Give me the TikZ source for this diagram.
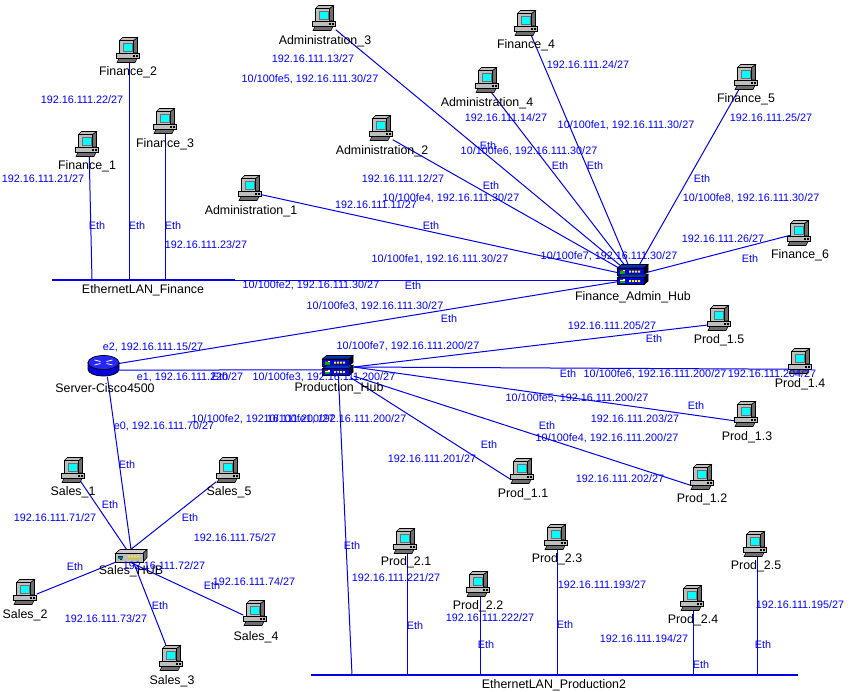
\documentclass[tikz,border=0pt]{standalone}
\usepackage{fontspec}
\setmainfont{Liberation Sans}
\definecolor{lk}{RGB}{0,0,235}
\definecolor{tx}{RGB}{0,0,255}
\definecolor{pcg}{RGB}{190,190,190}
\definecolor{pcd}{RGB}{110,110,110}
\definecolor{hb}{RGB}{0,0,225}
\definecolor{hbt}{RGB}{0,50,190}
\definecolor{scr}{RGB}{0,255,255}
\tikzset{
  ip/.style={text=tx,font=\fontsize{10.8}{12}\selectfont,inner sep=0pt},
  nm/.style={text=black,font=\fontsize{12.4}{14}\selectfont,inner sep=0pt,yshift=-1.2pt},
  pcn/.style={minimum width=23pt,minimum height=25pt,inner sep=0pt},
  hubn/.style={minimum width=31pt,minimum height=21pt,inner sep=0pt},
  shubn/.style={minimum width=31pt,minimum height=13pt,inner sep=0pt},
  rtn/.style={minimum width=31pt,minimum height=21pt,inner sep=0pt},
  lan/.style={draw=lk,line width=1.6pt},
  lnk/.style={draw=lk,line width=1pt},
  ol/.style={draw=black,line width=0.55pt},
  pics/pccomp/.style={code={
    \path[ol,fill=pcd] (-9,8.5)--(9,8.5)--(7,12.5)--(-11,12.5)--cycle;
    \path[ol,fill=pcd] (5.5,-9.5)--(9.5,-12.5)--(9.5,3)--(5.5,3)--cycle;
    \path[ol,fill=pcg] (-8.5,-9.5)--(-5.5,-12.5)--(9.5,-12.5)--(5.5,-9.5)--cycle;
    \path[ol,fill=pcg] (-8.5,-9.5) rectangle (5.5,3);
    \path[draw=pcd,line width=0.5pt,fill=scr] (-5,-6.5) rectangle (4,1.5);
    \path[ol,fill=pcg] (-11.5,3) rectangle (11.5,8.5);
    \fill[black] (5,5) rectangle (6.8,6.8) (8,5) rectangle (9.8,6.8);
  }},
  pics/hubunit/.style={code={
    \path[ol,fill=hbt] (-15.7,-3.5)--(-11.5,-7)--(15,-7)--(11,-3.5)--cycle;
    \path[ol,fill=black!85!blue] (11,-3.5)--(15,-7)--(15,0)--(11,3.5)--cycle;
    \path[ol,fill=hb] (-15.7,-3.5) rectangle (11,3.5);
    \fill[white] (-13.5,-2) rectangle (-8,2);
    \fill[green!70!black] (-13,-0.5) rectangle (-8.5,2);
    \fill[red!80!black] (-13.5,-2) rectangle (-10,-0.8);
    \fill[yellow] (-4,-1) rectangle (-2,1) (-1,-1) rectangle (1,1) (2,-1) rectangle (4,1) (5,-1) rectangle (7,1);
  }},
  pics/dualhub/.style={code={
    \pic at (0,-4.5) {hubunit};
    \pic at (0,5.2) {hubunit};
  }},
  pics/grayhub/.style={code={
    \path[ol,fill=pcg!80!white] (-15.7,-2.5)--(-11,-6.5)--(16,-6.5)--(12,-2.5)--cycle;
    \path[ol,fill=pcd] (12,-2.5)--(16,-6.5)--(16,1.5)--(12,6)--cycle;
    \path[ol,fill=pcg] (-15.7,-2.5) rectangle (12,6);
    \fill[blue] (-13,-0.5) rectangle (-8,1);
    \fill[green!60!black] (-13,1) rectangle (-8,2.5);
    \fill[blue] (-11,2.5) rectangle (-9,4);
    \fill[yellow] (-3,-0.5) rectangle (-1,1) (0,-0.5) rectangle (2,1) (3,-0.5) rectangle (5,1) (6,-0.5) rectangle (8,1);
    \fill[yellow!80!black] (-3,2) rectangle (-1,3.5) (0,2) rectangle (2,3.5) (3,2) rectangle (5,3.5) (6,2) rectangle (8,3.5);
  }},
  pics/routerpic/.style={code={
    \path[ol,fill=blue!85!black,line width=0.7pt] (-15.5,-3.5) -- (-15.5,3.5) arc[x radius=15.5,y radius=6.5,start angle=180,end angle=0] -- (15.5,-3.5) -- cycle;
    \path[ol,fill=blue!85!white,line width=0.7pt] (0,-3.5) ellipse[x radius=15.5,y radius=7];
    \draw[white,line width=0.8pt] (-9,-6)--(-3,-4.5) (3,-2.5)--(9,-1) (9,-6)--(3,-4.5) (-3,-2.5)--(-9,-1);
  }}
}
\begin{document}
\begin{tikzpicture}[x=1pt,y=-1pt]
\path[use as bounding box,fill=white] (0,0) rectangle (850,691);
% devices
\node[pcn] (fin1) at (87,144) {};
\node[pcn] (fin2) at (128,50) {};
\node[pcn] (fin3) at (165,121) {};
\node[pcn] (fin4) at (526,23) {};
\node[pcn] (fin5) at (746,77) {};
\node[pcn] (fin6) at (799,233) {};
\node[pcn] (adm1) at (250,188) {};
\node[pcn] (adm2) at (381,128) {};
\node[pcn] (adm3) at (324,18) {};
\node[pcn] (adm4) at (487,80) {};
\node[hubn] (fhub) at (633,276) {};
\node[hubn] (phub) at (338,367) {};
\node[rtn] (rtr) at (103.5,366) {};
\node[shubn] (shub) at (131,556) {};
\node[pcn] (p11) at (522,471) {};
\node[pcn] (p12) at (702,477) {};
\node[pcn] (p13) at (746,414) {};
\node[pcn] (p14) at (800,361) {};
\node[pcn] (p15) at (719,318) {};
\node[pcn] (p21) at (405,541) {};
\node[pcn] (p22) at (478,584) {};
\node[pcn] (p23) at (556,537) {};
\node[pcn] (p24) at (692,598) {};
\node[pcn] (p25) at (755,544) {};
\node[pcn] (s1) at (73,470) {};
\node[pcn] (s2) at (25,592) {};
\node[pcn] (s3) at (171,658) {};
\node[pcn] (s4) at (255,613) {};
\node[pcn] (s5) at (228,470) {};
% LAN buses and their tap points
\coordinate (lf0) at (52,280);
\coordinate (lf1) at (92,280);
\coordinate (lf2) at (129,280);
\coordinate (lf3) at (165,280);
\coordinate (lf4) at (235,280);
\coordinate (lp0) at (311,675);
\coordinate (lp1) at (352,675);
\coordinate (lp2) at (407,675);
\coordinate (lp3) at (480,675);
\coordinate (lp4) at (557.5,675);
\coordinate (lp5) at (693.5,675);
\coordinate (lp6) at (757,675);
\coordinate (lp7) at (798,675);
\draw[lan] (lf0) -- (lf4);
\draw[lan] (lp0) -- (lp7);
% links
\draw[lnk] (fin1.-80) -- (lf1);
\draw[lnk] (lf2 |- fin2.south) -- (lf2);
\draw[lnk] (lf3 |- fin3.south) -- (lf3);
\draw[lnk] (lf4) -- (fhub.center |- lf4);
\draw[lnk] (adm1.-30) -- (fhub.center);
\draw[lnk] (adm2.-45) -- (fhub.center);
\draw[lnk] (adm3.-45) -- (fhub.center);
\draw[lnk] (adm4.-70) -- (fhub.center);
\draw[lnk] (fin4.center) -- (fhub.center);
\draw[lnk] (fin5.center) -- (fhub.center);
\draw[lnk] (fin6.center) -- (fhub.center);
\draw[lnk] (rtr.center) -- (fhub.-160);
\draw[lnk] (rtr.-15) -- (phub.-170);
\draw[lnk] (rtr.-70) -- (shub.north);
\draw[lnk] (phub.east) -- (p14.-145);
\draw[lnk] (phub.east) -- (p15.-149);
\draw[lnk] (phub.east) -- (p13.-150);
\draw[lnk] (phub.-30) -- (p12.-145);
\draw[lnk] (phub.-40) -- (p11.-145);
\draw[lnk] (phub.center) -- (lp1);
\draw[lnk] (lp2 |- p21.south) -- (lp2);
\draw[lnk] (lp3 |- p22.south) -- (lp3);
\draw[lnk] (lp4 |- p23.south) -- (lp4);
\draw[lnk] (lp5 |- p24.south) -- (lp5);
\draw[lnk] (lp6 |- p25.south) -- (lp6);
\draw[lnk] (s1.center) -- (shub.center);
\draw[lnk] (s2.-10) -- (shub.center);
\draw[lnk] (s3.center) -- (shub.center);
\draw[lnk] (s4.-170) -- (shub.south);
\draw[lnk] (s5.-135) -- (shub.north);
% icons
\foreach \n in {fin1,fin2,fin3,fin4,fin5,fin6,adm1,adm2,adm3,adm4,p11,p12,p13,p14,p15,p21,p22,p23,p24,p25,s1,s2,s3,s4,s5}
  \pic at (\n) {pccomp};
\pic at (fhub) {dualhub};
\pic at (phub) {dualhub};
\pic at (shub) {grayhub};
\pic at (rtr) {routerpic};
% device names
\node[nm] (nfin1) at (87,165) {Finance\_1};
\node[nm] (nfin2) at (128,71) {Finance\_2};
\node[nm] (nfin3) at (165,143) {Finance\_3};
\node[nm] (nfin4) at (526,44) {Finance\_4};
\node[nm] (nfin5) at (746,98) {Finance\_5};
\node[nm] (nfin6) at (800,254) {Finance\_6};
\node[nm] (nadm1) at (251,210) {Administration\_1};
\node[nm] (nadm2) at (382,150) {Administration\_2};
\node[nm] (nadm3) at (325,40) {Administration\_3};
\node[nm] (nadm4) at (487,102) {Administration\_4};
\node[nm] (nfhub) at (633,296) {Finance\_Admin\_Hub};
\node[nm] (nlf) at (143,289) {EthernetLAN\_Finance};
\node[nm] (nrtr) at (105,387) {Server-Cisco4500};
\node[nm] (nphub) at (339,387) {Production\_Hub};
\node[nm] (np15) at (719,339) {Prod\_1.5};
\node[nm] (np14) at (800,383) {Prod\_1.4};
\node[nm] (np13) at (747,436) {Prod\_1.3};
\node[nm] (np12) at (702,498) {Prod\_1.2};
\node[nm] (np11) at (523,493) {Prod\_1.1};
\node[nm] (ns1) at (73,491) {Sales\_1};
\node[nm] (ns5) at (229,491) {Sales\_5};
\node[nm] (ns2) at (25,614) {Sales\_2};
\node[nm] (ns3) at (172,680) {Sales\_3};
\node[nm] (ns4) at (256,636) {Sales\_4};
\node[nm] (nshub) at (131,570) {Sales\_HUB};
\node[nm] (np21) at (406,561) {Prod\_2.1};
\node[nm] (np22) at (478,605) {Prod\_2.2};
\node[nm] (np23) at (557,558) {Prod\_2.3};
\node[nm] (np24) at (693,619) {Prod\_2.4};
\node[nm] (np25) at (756,565) {Prod\_2.5};
\node[nm] (nlp) at (554,684) {EthernetLAN\_Production2};
% link labels
\node[ip] (a01) at (82,100) {192.16.111.22/27};
\node[ip] (a02) at (43,179) {192.16.111.21/27};
\node[ip] (a03) at (206,245) {192.16.111.23/27};
\node[ip] (a04) at (313,59) {192.16.111.13/27};
\node[ip] (a05) at (310,79) {10/100fe5, 192.16.111.30/27};
\node[ip] (a06) at (588,65) {192.16.111.24/27};
\node[ip] (a07) at (626,125) {10/100fe1, 192.16.111.30/27};
\node[ip] (a08) at (506,118) {192.16.111.14/27};
\node[ip] (a09) at (529,151) {10/100fe6, 192.16.111.30/27};
\node[ip] (a10) at (771,118) {192.16.111.25/27};
\node[ip] (a11) at (751,198) {10/100fe8, 192.16.111.30/27};
\node[ip] (a12) at (403,179) {192.16.111.12/27};
\node[ip] (a13) at (451,198) {10/100fe4, 192.16.111.30/27};
\node[ip] (a14) at (376,205) {192.16.111.11/27};
\node[ip] (a15) at (440,259) {10/100fe1, 192.16.111.30/27};
\node[ip] (a16) at (609,256) {10/100fe7, 192.16.111.30/27};
\node[ip] (a17) at (723,239) {192.16.111.26/27};
\node[ip] (a18) at (311,285) {10/100fe2, 192.16.111.30/27};
\node[ip] (a19) at (375,306) {10/100fe3, 192.16.111.30/27};
\node[ip] (a20) at (153,347) {e2, 192.16.111.15/27};
\node[ip] (a21) at (612,326) {192.16.111.205/27};
\node[ip] (a22) at (408,346) {10/100fe7, 192.16.111.200/27};
\node[ip] (a23) at (190,377) {e1, 192.16.111.220/27};
\node[ip] (a24) at (324,377) {10/100fe3, 192.16.111.200/27};
\node[ip] (a25) at (164,426) {e0, 192.16.111.70/27};
\node[ip] (a26) at (263,419) {10/100fe2, 192.16.111.200/27};
\node[ip] (a27) at (335,419) {10/100fe1, 192.16.111.200/27};
\node[ip] (a28) at (655,374) {10/100fe6, 192.16.111.200/27};
\node[ip] (a29) at (772,374) {192.16.111.204/27};
\node[ip] (a30) at (577,398) {10/100fe5, 192.16.111.200/27};
\node[ip] (a31) at (635,419) {192.16.111.203/27};
\node[ip] (a32) at (607,438) {10/100fe4, 192.16.111.200/27};
\node[ip] (a33) at (432,459) {192.16.111.201/27};
\node[ip] (a34) at (620,479) {192.16.111.202/27};
\node[ip] (a35) at (55,518) {192.16.111.71/27};
\node[ip] (a36) at (235,538) {192.16.111.75/27};
\node[ip] (a37) at (164,566) {192.16.111.72/27};
\node[ip] (a38) at (254,582) {192.16.111.74/27};
\node[ip] (a39) at (106,619) {192.16.111.73/27};
\node[ip] (a40) at (396,578) {192.16.111.221/27};
\node[ip] (a41) at (602,585) {192.16.111.193/27};
\node[ip] (a42) at (800,605) {192.16.111.195/27};
\node[ip] (a43) at (490,618) {192.16.111.222/27};
\node[ip] (a44) at (644,639) {192.16.111.194/27};
% Eth labels
\node[ip] (e01) at (97,226) {Eth};
\node[ip] (e02) at (137,226) {Eth};
\node[ip] (e03) at (173,226) {Eth};
\node[ip] (e04) at (488,146) {Eth};
\node[ip] (e05) at (560,166) {Eth};
\node[ip] (e06) at (595,166) {Eth};
\node[ip] (e07) at (702,179) {Eth};
\node[ip] (e08) at (491,186) {Eth};
\node[ip] (e09) at (431,226) {Eth};
\node[ip] (e10) at (750,259) {Eth};
\node[ip] (e11) at (413,286) {Eth};
\node[ip] (e12) at (449,319) {Eth};
\node[ip] (e13) at (654,339) {Eth};
\node[ip] (e14) at (220,377) {Eth};
\node[ip] (e15) at (568,374) {Eth};
\node[ip] (e16) at (696,406) {Eth};
\node[ip] (e17) at (547,426) {Eth};
\node[ip] (e18) at (489,445) {Eth};
\node[ip] (e19) at (127,465) {Eth};
\node[ip] (e20) at (110,505) {Eth};
\node[ip] (e21) at (190,518) {Eth};
\node[ip] (e22) at (75,567) {Eth};
\node[ip] (e23) at (212,586) {Eth};
\node[ip] (e24) at (160,606) {Eth};
\node[ip] (e25) at (352,546) {Eth};
\node[ip] (e26) at (415,626) {Eth};
\node[ip] (e27) at (565,625) {Eth};
\node[ip] (e28) at (763,645) {Eth};
\node[ip] (e29) at (486,645) {Eth};
\node[ip] (e30) at (701,665) {Eth};
\end{tikzpicture}
\end{document}
